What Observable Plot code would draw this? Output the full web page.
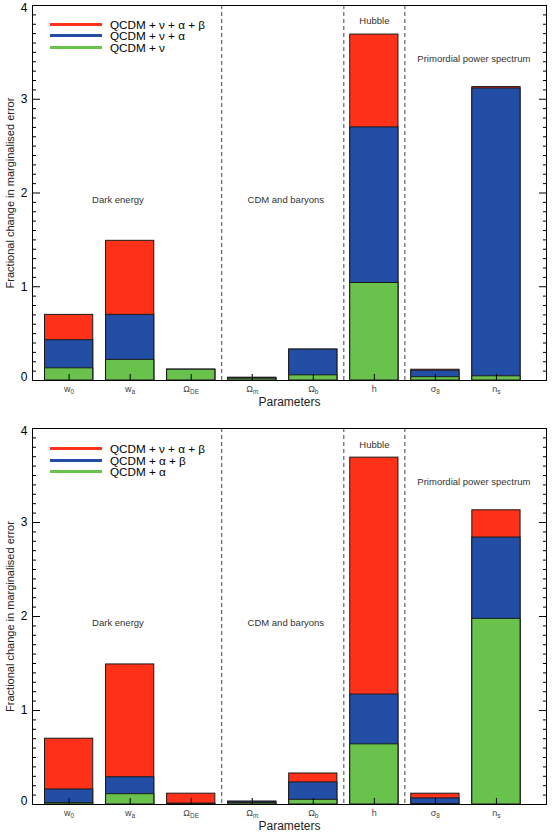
<!DOCTYPE html>
<html>
<head>
<meta charset="utf-8">
<script src="https://cdn.jsdelivr.net/npm/d3@7"></script>
<script src="https://cdn.jsdelivr.net/npm/@observablehq/plot@0.6"></script>
<style>
  body { margin: 0; background: #fff; font-family: "Liberation Sans", Arial, sans-serif; }
  .panel { position: relative; width: 555px; }
  .panel svg { display: block; }
  .legend { position: absolute; left: 50px; font-size: 11.7px; color: #000; }
  .legend .row { display: flex; align-items: center; height: 11.5px; line-height: 11.5px; white-space: nowrap; }
  .legend .sw { width: 52px; height: 3px; margin-right: 8px; }
</style>
</head>
<body>
<div id="chart"></div>
<script>
// Cosmological parameters along the x axis (symbol + subscript)
const paramBase = ["w", "w", "Ω", "Ω", "Ω", "h", "σ", "n"];
const paramSub  = ["0", "a", "DE", "m", "b", "", "8", "s"];
const paramIndex = [1, 2, 3, 4, 5, 6, 7, 8];

// Fractional change in marginalised error for each model extension
const fullModel = [0.70, 1.49, 0.115, 0.03, 0.33, 3.69, 0.115, 3.13];   // QCDM + ν + α + β
const nuAlpha   = [0.43, 0.70, 0.115, 0.025, 0.33, 2.70, 0.105, 3.115]; // QCDM + ν + α
const nuOnly    = [0.13, 0.22, 0.115, 0.02, 0.055, 1.04, 0.035, 0.045]; // QCDM + ν
const alphaBeta = [0.16, 0.29, 0.01, 0.03, 0.235, 1.17, 0.065, 2.84];   // QCDM + α + β
const alphaOnly = [0.015, 0.11, 0.005, 0.015, 0.05, 0.64, 0.005, 1.975]; // QCDM + α

// Parameter groups, their label anchors and separators
const groupNames = ["Dark energy", "CDM and baryons", "Hubble", "Primordial power spectrum"];
const groupX = [1.8, 4.55, 6.0, 7.63];
const groupY = [1.93, 1.93, 3.83, 3.43];
const dividers = [3.5, 5.5, 6.5];

// Axis ticks (end labels are nudged inside the frame)
const yMajor = [0, 1, 2, 3, 4];
const yInner = [1, 2, 3];
const yMinor = d3.range(1, 40).filter(k => k % 10 !== 0).map(k => k / 10);

const RED = "#ff3118", BLUE = "#224ea6", GREEN = "#69c24b";

const panels = [
  {
    height: 419, marginTop: 5, marginBottom: 39, legendTop: 18.6,
    series: [
      {name: "QCDM + ν + α + β", color: RED, values: fullModel},
      {name: "QCDM + ν + α", color: BLUE, values: nuAlpha},
      {name: "QCDM + ν", color: GREEN, values: nuOnly}
    ]
  },
  {
    height: 414, marginTop: 9, marginBottom: 29, legendTop: 24,
    series: [
      {name: "QCDM + ν + α + β", color: RED, values: fullModel},
      {name: "QCDM + α + β", color: BLUE, values: alphaBeta},
      {name: "QCDM + α", color: GREEN, values: alphaOnly}
    ]
  }
];

const groups = groupNames.map((name, k) => ({name, x: groupX[k], y: groupY[k]}));
const rowsOf = values => paramIndex.map((i, k) => ({i, v: values[k]}));
const halfWidth = 0.395;
const blank = () => "";
const num = d => String(d);

const root = document.getElementById("chart");

for (const p of panels) {
  const svg = Plot.plot({
    width: 555,
    height: p.height,
    marginTop: p.marginTop,
    marginBottom: p.marginBottom,
    marginLeft: 32,
    marginRight: 9,
    x: {domain: [0.4, 8.82]},
    y: {domain: [0, 4]},
    style: {fontFamily: '"Liberation Sans", Arial, sans-serif', fontSize: "12px", color: "#000", background: "#fff", overflow: "visible"},
    marks: [
      Plot.ruleX(dividers, {stroke: "#444", strokeDasharray: "4,3", strokeWidth: 1}),
      // bars overlap: largest model first, nested models drawn on top
      ...p.series.map(s => Plot.rect(rowsOf(s.values), {
        x1: d => d.i - halfWidth,
        x2: d => d.i + halfWidth,
        y1: 0,
        y2: "v",
        fill: s.color,
        stroke: "#1b1b1b",
        strokeWidth: 1
      })),
      Plot.text(groups, {x: "x", y: "y", text: "name", fontSize: 9.5, fill: "#333"}),
      Plot.frame({stroke: "#000", strokeWidth: 1}),
      // inward ticks on x (at bars) and on both y sides
      Plot.axisX(paramIndex, {tickSize: 6, dy: -6, tickFormat: blank, label: null}),
      Plot.axisX(paramIndex, {tickSize: 0, tickPadding: 5, fontSize: 9, color: "#444",
        tickFormat: i => paramBase[i - 1] + paramSub[i - 1], label: null}),
      Plot.axisY(yMajor, {tickSize: 8, dx: 8, tickFormat: blank, label: null}),
      Plot.axisY(yMinor, {tickSize: 4, dx: 4, tickFormat: blank, label: null}),
      Plot.axisY(yMajor, {anchor: "right", tickSize: 8, dx: -8, tickFormat: blank, label: null}),
      Plot.axisY(yMinor, {anchor: "right", tickSize: 4, dx: -4, tickFormat: blank, label: null}),
      Plot.axisY(yInner, {tickSize: 0, tickPadding: 5, fontSize: 12, tickFormat: num, label: null}),
      Plot.axisY([yMajor[yMajor.length - 1]], {tickSize: 0, tickPadding: 5, dy: 3, fontSize: 12, tickFormat: num, label: null}),
      Plot.axisY([yMajor[0]], {tickSize: 0, tickPadding: 5, dy: -3, fontSize: 12, tickFormat: num, label: null}),
      Plot.text(["Parameters"], {frameAnchor: "bottom", dy: 25, fontSize: 12, fill: "#222"}),
      Plot.text(["Fractional change in marginalised error"], {frameAnchor: "left", textAnchor: "middle", rotate: -90, dx: -22, fontSize: 11, fill: "#222"})
    ]
  });

  // subscripts on the parameter symbols
  svg.querySelectorAll('g[aria-label="x-axis tick label"] text').forEach(t => {
    const content = t.textContent;
    const k = paramIndex.findIndex(i => paramBase[i - 1] + paramSub[i - 1] === content && content !== "");
    if (k < 0 || !paramSub[k]) return;
    t.textContent = paramBase[k];
    const ts = document.createElementNS("http://www.w3.org/2000/svg", "tspan");
    ts.setAttribute("dy", "0.35em");
    ts.setAttribute("font-size", "6.5");
    ts.textContent = paramSub[k];
    t.appendChild(ts);
  });

  const panel = document.createElement("div");
  panel.className = "panel";
  panel.appendChild(svg);

  const legend = document.createElement("div");
  legend.className = "legend";
  legend.style.top = p.legendTop + "px";
  for (const s of p.series) {
    const row = document.createElement("div");
    row.className = "row";
    const sw = document.createElement("span");
    sw.className = "sw";
    sw.style.background = s.color;
    const label = document.createElement("span");
    label.textContent = s.name;
    row.appendChild(sw);
    row.appendChild(label);
    legend.appendChild(row);
  }
  panel.appendChild(legend);
  root.appendChild(panel);
}
</script>
</body>
</html>
